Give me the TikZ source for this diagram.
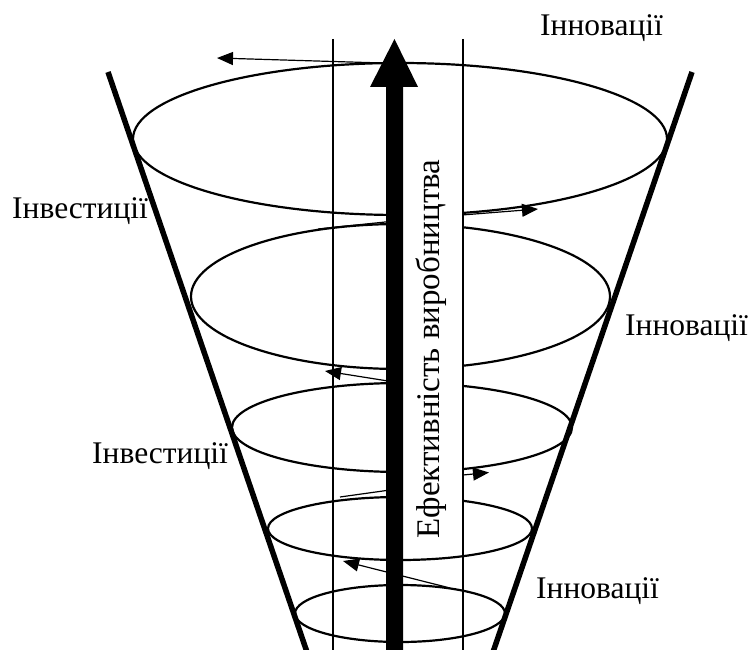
\documentclass[tikz,border=0pt]{standalone}
\usepackage{fontspec}
\setmainfont{Liberation Serif}
\usetikzlibrary{arrows.meta}
\tikzset{
  ring/.style={line width=2.2pt},
  guide/.style={line width=1.1pt},
  cone/.style={line width=5.5pt},
  spiral/.style={line width=1.2pt},
  spiralarrow/.style={line width=1.2pt,-{Triangle[length=16pt,width=13pt]}},
  lbl/.style={inner sep=0pt,anchor=base west,font=\fontsize{31.5}{36}\selectfont},
  vtext/.style={inner sep=0pt,rotate=90,font=\fontsize{33}{39}\selectfont}
}
\begin{document}
\begin{tikzpicture}[x=1pt,y=-1pt]
\useasboundingbox (0,0) rectangle (749,650);
% rings
\draw[ring] (400,139) ellipse [x radius=267pt,y radius=76pt];
\draw[ring] (400.5,296.5) ellipse [x radius=209.5pt,y radius=72.5pt];
\draw[ring] (402,427.5) ellipse [x radius=170pt,y radius=44.5pt];
\draw[ring] (400,528.5) ellipse [x radius=132pt,y radius=31.5pt];
\draw[ring] (400,613.5) ellipse [x radius=105pt,y radius=28.5pt];
% spiral coordinates
\coordinate (s1a) at (383,63);   \coordinate (s1b) at (217,58);
\coordinate (s2a) at (318,229);  \coordinate (s2b) at (390,221.5);
\coordinate (s2c) at (462,215);  \coordinate (s2d) at (538,209);
\coordinate (s3a) at (388,381);  \coordinate (s3b) at (325,371);
\coordinate (s4a) at (340,497);  \coordinate (s4b) at (390,490);
\coordinate (s4c) at (463,475);  \coordinate (s4d) at (489,472.5);
\coordinate (s5a) at (450,588);  \coordinate (s5b) at (343,561);
\draw[spiralarrow] (s1a) -- (s1b);
\draw[spiral] (s2a) -- (s2b);
\draw[spiralarrow] (s2c) -- (s2d);
\draw[spiralarrow] (s3a) -- (s3b);
\draw[spiral] (s4a) -- (s4b);
\draw[spiralarrow] (s4c) -- (s4d);
\draw[spiralarrow] (s5a) -- (s5b);
% white band with text
\fill[white] (403,155) rectangle (462,545);
\node[vtext] (eff) at (431,349) {Ефективність виробництва};
% guide lines
\coordinate (g1t) at (333,39); \coordinate (g1b) at (333,650);
\coordinate (g2t) at (463,39); \coordinate (g2b) at (463,650);
\draw[guide] (g1t) -- (g1b);
\draw[guide] (g2t) -- (g2b);
% main arrow
\fill[black] (386,650) -- (386,87) -- (370,87) -- (394.5,39) -- (418,87) -- (403,87) -- (403,650) -- cycle;
% cone
\coordinate (cl1) at (108,72); \coordinate (cl2) at (308,655);
\coordinate (cr1) at (692,72); \coordinate (cr2) at (492,655);
\draw[cone] (cl1) -- (cl2);
\draw[cone] (cr1) -- (cr2);
% labels
\node[lbl] (inn1) at (540,36) {Інновації};
\node[lbl] (inv1) at (12,218) {Інвестиції};
\node[lbl] (inn2) at (625,335) {Інновації};
\node[lbl] (inv2) at (92,463) {Інвестиції};
\node[lbl] (inn3) at (536,598) {Інновації};
\end{tikzpicture}
\end{document}
